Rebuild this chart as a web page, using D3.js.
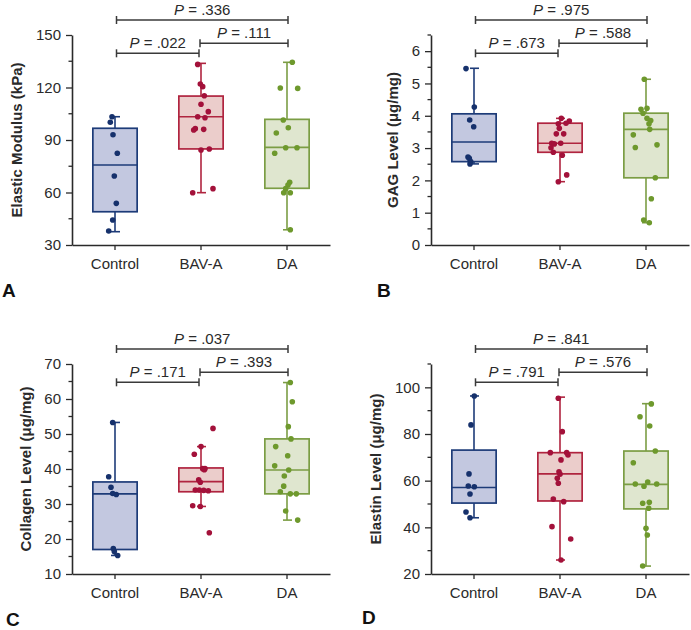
<!DOCTYPE html>
<html><head><meta charset="utf-8">
<script src="https://cdn.jsdelivr.net/npm/d3@7"></script>
<style>
html,body{margin:0;padding:0;background:#fff;}
svg{display:block;font-family:"Liberation Sans",Arial,Helvetica,sans-serif;}
</style></head>
<body>
<svg id="chart" width="691" height="630"></svg>
<script>
// ---------- DATA ----------
const categories = ["Control", "BAV-A", "DA"];

// Panel A: Elastic Modulus (kPa)
const elasticValues = [
  [103.3, 100.1, 93.0, 82.4, 69.4, 53.8, 44.3, 38.0],
  [133.2, 122.0, 120.5, 115.3, 110.4, 106.2, 103.3, 102.7, 96.5, 95.7, 96.1, 84.3, 84.9, 59.9, 62.2],
  [134.4, 119.7, 119.5, 101.4, 97.0, 94.0, 85.6, 85.6, 82.4, 65.8, 64.3, 62.2, 59.9, 59.9, 38.7]
];
const elasticJitter = [
  [-3, -4.7, -2, 2.3, -0.7, 1.3, -2.3, -6.3],
  [-3.3, -0.7, 1.7, 3.3, 0, 7.3, -3.3, 4, -5.7, -7.3, 2.7, 0, 8.3, -8.3, 12],
  [5.3, -6.7, 10.7, -3.7, 1.3, -10.7, -1.3, 10, -12.3, 2.7, 1, -1.3, -3.3, 3.3, 3.3]
];
// [lower whisker, Q1, median, Q3, upper whisker]
const elasticBox = [
  [37.6, 49.0, 75.7, 96.7, 103.3],
  [59.9, 84.9, 103.3, 115.1, 133.8],
  [38.7, 62.4, 85.8, 101.8, 134.4]
];
const elasticTicks = [30, 60, 90, 120, 150];
const elasticP = [".022", ".111", ".336"];

// Panel B: GAG Level
const gagValues = [
  [5.46, 4.27, 3.87, 3.66, 2.72, 2.68, 2.58, 2.51],
  [3.92, 3.84, 3.75, 3.77, 3.61, 3.44, 3.44, 3.15, 3.13, 3.15, 3.01, 2.87, 2.78, 2.17, 1.96],
  [5.13, 4.23, 4.20, 4.08, 3.92, 3.85, 3.75, 3.58, 3.41, 3.10, 3.02, 2.08, 1.43, 0.77, 0.69]
];
const gagJitter = [
  [-8, 0.3, -4.3, -0.3, -6, -4.7, -3.3, -4],
  [1.3, 9.3, -1.7, 6, -0.7, -3.7, 3.7, -8.3, -5.7, 0.7, -9, -6.7, 2.3, 6.7, -1.7],
  [-1.7, 1, -5, -3, 1, 4.7, 3, 3.7, -12.7, 11, -10.7, 9.3, 5.3, -2.3, 3.3]
];
const gagBox = [
  [2.51, 2.58, 3.19, 4.06, 5.47],
  [1.96, 2.87, 3.15, 3.77, 3.92],
  [0.69, 2.08, 3.58, 4.08, 5.13]
];
const gagTicks = [0, 1, 2, 3, 4, 5, 6];
const gagP = [".673", ".588", ".975"];

// Panel C: Collagen Level
const collagenValues = [
  [53.3, 37.8, 34.8, 33.0, 32.7, 17.3, 16.4, 15.3],
  [51.6, 46.4, 44.2, 40.1, 40.1, 39.8, 36.9, 36.2, 34.0, 34.0, 33.9, 33.8, 29.5, 29.3, 21.8],
  [64.7, 59.2, 52.1, 48.6, 46.4, 43.8, 40.9, 39.7, 38.0, 35.1, 33.5, 32.9, 32.9, 28.0, 25.4]
];
const collagenJitter = [
  [-2.3, -6.3, -4, -2.3, 1.3, -1.7, -0.7, 2.7],
  [12, 0, -6.7, 1.7, 4, 3.3, -2.3, -0.7, -5.7, -1.7, 2.7, 7.3, -8.3, -0.7, 8.3],
  [3.3, 5.3, 1.3, 4, -11.3, 0.7, -12.3, 1.7, -2.7, -3.3, -6.7, 3.3, 9.3, -1.3, 10.7]
];
const collagenBox = [
  [15.3, 17.0, 32.9, 36.3, 53.3],
  [29.3, 33.5, 36.4, 40.3, 46.4],
  [25.4, 32.9, 39.7, 48.6, 64.7]
];
const collagenTicks = [10, 20, 30, 40, 50, 60, 70];
const collagenP = [".171", ".393", ".037"];

// Panel D: Elastin Level
const elastinValues = [
  [96.3, 83.9, 62.9, 57.7, 57.4, 54.3, 46.6, 44.1],
  [95.3, 81.0, 72.0, 72.0, 71.0, 68.9, 63.8, 62.8, 61.0, 58.9, 52.1, 51.0, 40.3, 35.0, 26.0],
  [92.9, 87.4, 83.4, 72.7, 67.7, 59.4, 58.6, 58.6, 57.6, 50.7, 50.3, 48.2, 39.6, 36.7, 23.4]
];
const elastinJitter = [
  [0.3, -3, -5, -5.7, 0.3, -4, -8, -4],
  [-1.7, 2.3, -9.7, 6.7, 8, 1, -1, 0, -2.7, -1.7, -6.7, 3.7, -8, 10.7, 1],
  [5.3, -6, 3.7, 9.3, -12.7, 1.7, -10.7, 10.7, -2, 3.3, -3.3, 2.7, 0, 1.3, -3.3]
];
const elastinBox = [
  [44.1, 50.4, 57.1, 73.1, 96.3],
  [26.0, 51.3, 62.9, 72.0, 95.8],
  [23.4, 47.9, 58.4, 72.7, 93.0]
];
const elastinTicks = [20, 40, 60, 80, 100];
const elastinP = [".791", ".576", ".841"];

// ---------- STYLE ----------
const strokeColors = ["#1d3b78", "#b0243f", "#7b9d44"];
const fillColors = ["#c3c8e0", "#ebcdcb", "#dfe6cf"];
const pointColors = ["#16316c", "#a3113a", "#6e992d"];
const ink = "#2a2a2a";

const panels = [
  { letter: "A", title: "Elastic Modulus (kPa)", values: elasticValues, jitter: elasticJitter, box: elasticBox,
    domain: [30, 150], ticks: elasticTicks, minor: 15, p: elasticP, left: 72, top: 35, letterX: 2, letterY: 297 },
  { letter: "B", title: "GAG Level (μg/mg)", values: gagValues, jitter: gagJitter, box: gagBox,
    domain: [0, 6.5], ticks: gagTicks, minor: 0.5, p: gagP, left: 431, top: 35, letterX: 377, letterY: 297 },
  { letter: "C", title: "Collagen Level (μg/mg)", values: collagenValues, jitter: collagenJitter, box: collagenBox,
    domain: [10, 70], ticks: collagenTicks, minor: 5, p: collagenP, left: 72, top: 364, letterX: 6, letterY: 626 },
  { letter: "D", title: "Elastin Level (μg/mg)", values: elastinValues, jitter: elastinJitter, box: elastinBox,
    domain: [20, 110], ticks: elastinTicks, minor: 10, p: elastinP, left: 431, top: 364, letterX: 362, letterY: 624 }
];

const W = 258, H = 210;
const svg = d3.select("#chart");

panels.forEach(pn => {
  const g = svg.append("g").attr("transform", `translate(${pn.left},${pn.top})`);
  const x = d3.scaleBand().domain(categories).range([0, W]).padding(0);
  const cx = c => x(c) + x.bandwidth() / 2;
  const y = d3.scaleLinear().domain(pn.domain).range([H, 0]);
  const bw = x.bandwidth() * 0.515;
  const jscale = x.step() / 86;

  // minor ticks
  const minorVals = d3.range(pn.domain[0], pn.domain[1] + 1e-9, pn.minor).filter(v => !pn.ticks.some(t => Math.abs(t - v) < 1e-9));
  g.selectAll(".minor").data(minorVals).join("line")
    .attr("x1", -3.5).attr("x2", 0).attr("y1", d => y(d)).attr("y2", d => y(d))
    .attr("stroke", ink).attr("stroke-width", 1.3);

  // y axis
  const yAxis = g.append("g").call(d3.axisLeft(y).tickValues(pn.ticks).tickFormat(d3.format("d"))
    .tickSize(6).tickPadding(5).tickSizeOuter(0));
  yAxis.select(".domain").attr("stroke", ink).attr("stroke-width", 1.6);
  yAxis.selectAll(".tick line").attr("stroke", ink).attr("stroke-width", 1.3);
  yAxis.selectAll(".tick text").attr("fill", ink).attr("font-size", 15).attr("font-family", "Liberation Sans, Arial, sans-serif");

  // x axis
  const xAxis = g.append("g").attr("transform", `translate(0,${H})`)
    .call(d3.axisBottom(x).tickSize(5).tickPadding(8).tickSizeOuter(0));
  xAxis.select(".domain").attr("stroke", ink).attr("stroke-width", 1.6);
  xAxis.selectAll(".tick line").attr("stroke", ink).attr("stroke-width", 1.3);
  xAxis.selectAll(".tick text").attr("fill", ink).attr("font-size", 15).attr("font-family", "Liberation Sans, Arial, sans-serif");

  // boxes
  categories.forEach((c, i) => {
    const [lo, q1, med, q3, hi] = pn.box[i];
    const bx = cx(c);
    const grp = g.append("g");
    grp.append("line").attr("x1", bx).attr("x2", bx).attr("y1", y(q3)).attr("y2", y(hi))
      .attr("stroke", strokeColors[i]).attr("stroke-width", 1.6);
    grp.append("line").attr("x1", bx).attr("x2", bx).attr("y1", y(q1)).attr("y2", y(lo))
      .attr("stroke", strokeColors[i]).attr("stroke-width", 1.6);
    [hi, lo].forEach(v => grp.append("line").attr("x1", bx - 4).attr("x2", bx + 5).attr("y1", y(v)).attr("y2", y(v))
      .attr("stroke", strokeColors[i]).attr("stroke-width", 1.6));
    grp.append("rect").attr("x", bx - bw / 2).attr("width", bw).attr("y", y(q3)).attr("height", y(q1) - y(q3))
      .attr("fill", fillColors[i]).attr("stroke", strokeColors[i]).attr("stroke-width", 1.7);
    grp.append("line").attr("x1", bx - bw / 2).attr("x2", bx + bw / 2).attr("y1", y(med)).attr("y2", y(med))
      .attr("stroke", strokeColors[i]).attr("stroke-width", 1.6);
    // points
    grp.selectAll("circle").data(pn.values[i].map((v, k) => ({ v, j: pn.jitter[i][k] }))).join("circle")
      .attr("cx", d => bx + d.j * jscale).attr("cy", d => y(d.v)).attr("r", 2.8)
      .attr("fill", pointColors[i]);
  });

  // significance brackets
  const brackets = [
    { a: 0, b: 1, yy: 18.3, p: pn.p[0] },
    { a: 1, b: 2, yy: 8.3, p: pn.p[1] },
    { a: 0, b: 2, yy: -15, p: pn.p[2] }
  ];
  brackets.forEach(br => {
    const x1 = cx(categories[br.a]) + (br.a === 0 ? 1.5 : -1);
    const x2 = cx(categories[br.b]) + (br.b === 1 ? -2 : 1);
    const bg = g.append("g").attr("stroke", "#3a3a3a").attr("stroke-width", 1.5);
    bg.append("line").attr("x1", x1).attr("x2", x2).attr("y1", br.yy).attr("y2", br.yy);
    bg.append("line").attr("x1", x1).attr("x2", x1).attr("y1", br.yy - 4).attr("y2", br.yy + 4);
    bg.append("line").attr("x1", x2).attr("x2", x2).attr("y1", br.yy - 4).attr("y2", br.yy + 4);
    const t = g.append("text").attr("x", (x1 + x2) / 2).attr("y", br.yy - 5.5)
      .attr("text-anchor", "middle").attr("font-size", 15).attr("fill", ink);
    t.append("tspan").attr("font-style", "italic").text("P");
    t.append("tspan").text(" = " + br.p);
  });

  // y-axis title
  const maxLabelW = d3.max(yAxis.selectAll(".tick text").nodes(), n => n.getComputedTextLength());
  const titleX = -6 - 5 - maxLabelW - 19;
  g.append("text").attr("transform", `translate(${titleX},${H / 2}) rotate(-90)`)
    .attr("text-anchor", "middle").attr("dominant-baseline", "central")
    .attr("font-size", 15).attr("font-weight", "bold").attr("fill", ink).text(pn.title);

  // panel letter
  svg.append("text").attr("x", pn.letterX).attr("y", pn.letterY)
    .attr("font-size", 19).attr("font-weight", "bold").attr("fill", "#111").text(pn.letter);
});
</script>
</body></html>
